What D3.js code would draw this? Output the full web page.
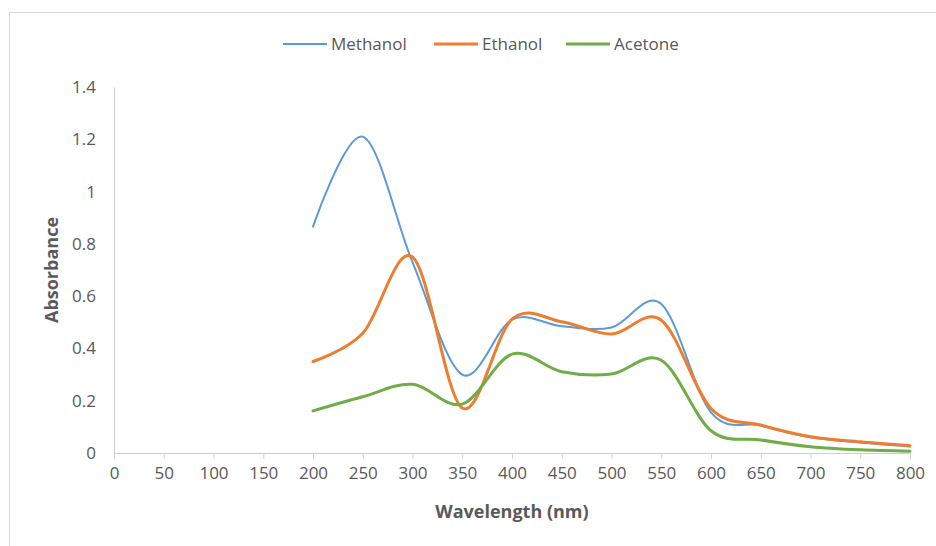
<!DOCTYPE html>
<html>
<head>
<meta charset="utf-8">
<script src="https://cdn.jsdelivr.net/npm/d3@7"></script>
<style>
  body { margin: 0; background: #fff; }
  text { font-family: "Open Sans", sans-serif; fill: #595959; }
</style>
</head>
<body>
<div id="chart"></div>
<script>
// values
const wavelengths = [200, 250, 300, 350, 400, 450, 500, 550, 600, 650, 700, 750, 800];
const methanol = [0.866, 1.21, 0.73, 0.30, 0.51, 0.485, 0.48, 0.57, 0.155, 0.105, 0.06, 0.04, 0.025];
const ethanol = [0.35, 0.458, 0.75, 0.172, 0.512, 0.502, 0.455, 0.508, 0.17, 0.107, 0.062, 0.043, 0.028];
const acetone = [0.161, 0.215, 0.263, 0.187, 0.378, 0.311, 0.302, 0.355, 0.085, 0.05, 0.024, 0.012, 0.007];
const xTicks = d3.range(0, 801, 50);
const yTicks = [0, 0.2, 0.4, 0.6, 0.8, 1, 1.2, 1.4];

const series = [
    {name: "Methanol", values: methanol, color: "#5b9bd5", width: 2},
    {name: "Ethanol", values: ethanol, color: "#ed7d31", width: 3},
    {name: "Acetone", values: acetone, color: "#70ad47", width: 3}
];

const W = 936, H = 546;
const margin = {top: 87, right: 26, bottom: 93, left: 114};

const svg = d3.select("#chart").append("svg")
    .attr("width", W)
    .attr("height", H);

// chart frame
svg.append("rect")
    .attr("x", 9.5).attr("y", 12.5)
    .attr("width", 960).attr("height", 560)
    .attr("fill", "none")
    .attr("stroke", "#d9d9d9");

const x = d3.scaleLinear().domain([0, 800]).range([margin.left, W - margin.right]);
const y = d3.scaleLinear().domain([0, 1.4]).range([H - margin.bottom, margin.top]);

// x axis
const xAxis = svg.append("g")
    .attr("transform", "translate(0," + y(0) + ")")
    .call(d3.axisBottom(x).tickValues(xTicks).tickSize(6).tickPadding(8).tickFormat(d3.format("d")));
xAxis.select(".domain").attr("stroke", "#d0d0d0");
xAxis.selectAll(".tick line").attr("stroke", "#d0d0d0");
xAxis.selectAll("text").attr("font-size", 17).attr("fill", "#595959");

// y axis
const yAxis = svg.append("g")
    .attr("transform", "translate(" + margin.left + ",0)")
    .call(d3.axisLeft(y).tickValues(yTicks).tickSize(0).tickPadding(18).tickFormat(d => d3.format("")(+d.toFixed(1))));
yAxis.select(".domain").attr("stroke", "#d0d0d0");
yAxis.selectAll("text").attr("font-size", 17).attr("fill", "#595959");

// axis titles
svg.append("text")
    .attr("x", (x(0) + x(800)) / 2)
    .attr("y", 518)
    .attr("text-anchor", "middle")
    .attr("font-size", 18)
    .attr("font-weight", "bold")
    .text("Wavelength (nm)");

svg.append("text")
    .attr("transform", "translate(58," + (y(0.7)) + ") rotate(-90)")
    .attr("text-anchor", "middle")
    .attr("font-size", 18)
    .attr("font-weight", "bold")
    .text("Absorbance");

// lines
const line = d3.line()
    .x(d => x(d[0]))
    .y(d => y(d[1]))
    .curve(d3.curveCatmullRom.alpha(0));

series.forEach(function(s) {
    svg.append("path")
        .datum(wavelengths.map((w, i) => [w, s.values[i]]))
        .attr("fill", "none")
        .attr("stroke", s.color)
        .attr("stroke-width", s.width)
        .attr("stroke-linecap", "round")
        .attr("d", line);
});

// legend
const legendX = [283, 434, 566];
const legend = svg.append("g");
series.forEach(function(s, i) {
    legend.append("line")
        .attr("x1", legendX[i]).attr("x2", legendX[i] + 44)
        .attr("y1", 44).attr("y2", 44)
        .attr("stroke", s.color)
        .attr("stroke-width", s.width);
    legend.append("text")
        .attr("x", legendX[i] + 48)
        .attr("y", 44)
        .attr("dy", "0.35em")
        .attr("font-size", 17)
        .text(s.name);
});
</script>
</body>
</html>
